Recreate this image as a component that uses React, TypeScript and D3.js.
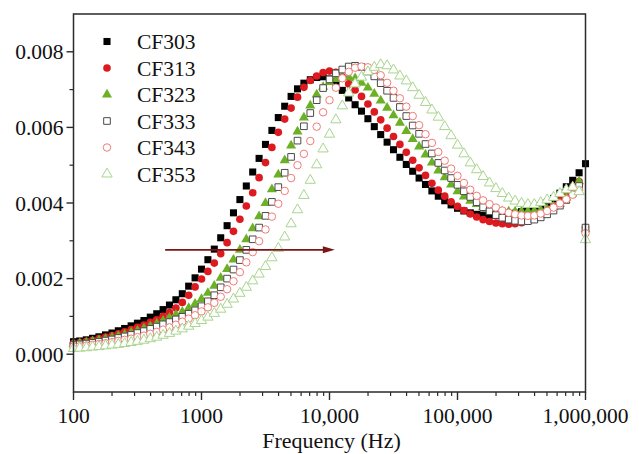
import * as d3 from 'd3';

// frequencies (Hz), 20 points per decade
const freq = [
  100, 112, 126, 141, 158, 178, 200, 224, 251, 282, 316, 355, 398, 447, 501, 562, 631, 708, 794, 891,
  1000, 1122, 1259, 1413, 1585, 1778, 1995, 2239, 2512, 2818, 3162, 3548, 3981, 4467, 5012, 5623, 6310, 7079, 7943, 8913,
  10000, 11220, 12589, 14125, 15849, 17783, 19953, 22387, 25119, 28184, 31623, 35481, 39811, 44668, 50119, 56234, 63096, 70795, 79433, 89125,
  100000, 112202, 125893, 141254, 158489, 177828, 199526, 223872, 251189, 281838, 316228, 354813, 398107, 446684, 501187, 562341, 630957, 707946, 794328, 891251,
  1000000,
];

// values in units of 1e-3
const cf303 = [
  0.33, 0.35, 0.38, 0.42, 0.46, 0.51, 0.56, 0.62, 0.68, 0.75, 0.82, 0.89, 0.98, 1.07, 1.18, 1.30, 1.44, 1.60, 1.80, 2.02,
  2.25, 2.50, 2.78, 3.08, 3.40, 3.74, 4.09, 4.45, 4.82, 5.18, 5.55, 5.92, 6.26, 6.56, 6.82, 7.02, 7.17, 7.26, 7.32, 7.34,
  7.28, 7.14, 6.98, 6.78, 6.60, 6.43, 6.23, 6.02, 5.81, 5.61, 5.41, 5.21, 5.02, 4.84, 4.66, 4.49, 4.32, 4.18, 4.06, 3.95,
  3.86, 3.79, 3.74, 3.70, 3.68, 3.67, 3.67, 3.68, 3.70, 3.73, 3.77, 3.82, 3.87, 3.93, 4.01, 4.12, 4.26, 4.43, 4.60, 4.80,
  5.04,
];
const cf313 = [
  0.29, 0.31, 0.34, 0.37, 0.41, 0.45, 0.49, 0.54, 0.59, 0.65, 0.71, 0.77, 0.84, 0.91, 1.00, 1.10, 1.22, 1.37, 1.56, 1.78,
  1.99, 2.19, 2.41, 2.66, 2.95, 3.25, 3.57, 3.92, 4.27, 4.67, 5.07, 5.47, 5.87, 6.22, 6.51, 6.80, 7.06, 7.24, 7.36, 7.45,
  7.49, 7.46, 7.33, 7.15, 6.99, 6.82, 6.62, 6.41, 6.20, 5.98, 5.76, 5.55, 5.34, 5.13, 4.93, 4.73, 4.52, 4.34, 4.18, 4.03,
  3.91, 3.80, 3.71, 3.63, 3.56, 3.51, 3.47, 3.45, 3.44, 3.45, 3.48, 3.53, 3.60, 3.69, 3.80, 3.93, 4.08, 4.25, 4.42, 4.57,
  3.35,
];
const cf323 = [
  0.27, 0.29, 0.31, 0.34, 0.37, 0.40, 0.44, 0.48, 0.52, 0.57, 0.62, 0.68, 0.74, 0.81, 0.88, 0.96, 1.04, 1.12, 1.22, 1.33,
  1.46, 1.62, 1.81, 2.02, 2.25, 2.50, 2.76, 3.04, 3.33, 3.65, 4.00, 4.36, 4.75, 5.13, 5.52, 5.89, 6.26, 6.58, 6.87, 7.07,
  7.20, 7.28, 7.32, 7.33, 7.30, 7.18, 7.05, 6.89, 6.71, 6.52, 6.32, 6.12, 5.90, 5.69, 5.49, 5.28, 5.07, 4.86, 4.68, 4.49,
  4.31, 4.17, 4.06, 3.97, 3.89, 3.83, 3.80, 3.78, 3.77, 3.77, 3.77, 3.78, 3.79, 3.81, 3.84, 3.90, 3.98, 4.14, 4.33, 4.57,
  3.30,
];
const cf333 = [
  0.24, 0.26, 0.28, 0.30, 0.33, 0.36, 0.39, 0.43, 0.47, 0.51, 0.56, 0.61, 0.67, 0.73, 0.79, 0.85, 0.92, 0.99, 1.07, 1.16,
  1.27, 1.40, 1.56, 1.77, 2.00, 2.24, 2.49, 2.76, 3.04, 3.35, 3.66, 4.03, 4.42, 4.80, 5.22, 5.65, 6.03, 6.38, 6.72, 7.04,
  7.27, 7.43, 7.53, 7.61, 7.63, 7.60, 7.48, 7.35, 7.17, 6.97, 6.78, 6.54, 6.30, 6.05, 5.83, 5.56, 5.31, 5.06, 4.86, 4.66,
  4.48, 4.31, 4.16, 4.02, 3.89, 3.78, 3.68, 3.61, 3.56, 3.53, 3.51, 3.52, 3.56, 3.62, 3.70, 3.80, 3.93, 4.08, 4.25, 4.45,
  3.35,
];
const cf343 = [
  0.20, 0.21, 0.23, 0.25, 0.27, 0.29, 0.32, 0.35, 0.38, 0.41, 0.45, 0.49, 0.54, 0.59, 0.65, 0.71, 0.78, 0.86, 0.94, 1.03,
  1.13, 1.24, 1.36, 1.52, 1.72, 1.93, 2.17, 2.43, 2.70, 2.99, 3.30, 3.64, 3.98, 4.32, 4.66, 5.00, 5.30, 5.64, 6.02, 6.40,
  6.72, 7.05, 7.30, 7.47, 7.58, 7.61, 7.59, 7.52, 7.38, 7.18, 6.97, 6.77, 6.55, 6.30, 6.06, 5.82, 5.59, 5.35, 5.12, 4.91,
  4.72, 4.53, 4.35, 4.19, 4.07, 3.97, 3.88, 3.80, 3.74, 3.70, 3.67, 3.66, 3.67, 3.72, 3.79, 3.88, 3.99, 4.10, 4.22, 4.34,
  3.20,
];
const cf353 = [
  0.15, 0.16, 0.17, 0.19, 0.20, 0.22, 0.24, 0.26, 0.28, 0.31, 0.34, 0.37, 0.41, 0.45, 0.50, 0.55, 0.61, 0.67, 0.74, 0.81,
  0.89, 0.98, 1.08, 1.19, 1.32, 1.46, 1.61, 1.77, 1.94, 2.12, 2.32, 2.55, 2.80, 3.10, 3.45, 3.82, 4.20, 4.60, 5.01, 5.43,
  5.82, 6.20, 6.57, 6.91, 7.15, 7.33, 7.47, 7.59, 7.66, 7.63, 7.52, 7.36, 7.23, 7.05, 6.85, 6.66, 6.46, 6.27, 6.02, 5.78,
  5.53, 5.30, 5.06, 4.88, 4.70, 4.53, 4.38, 4.25, 4.13, 4.05, 3.99, 3.96, 3.96, 4.01, 4.08, 4.15, 4.25, 4.35, 4.42, 4.30,
  3.03,
];

const seriesNames = ['CF303', 'CF313', 'CF323', 'CF333', 'CF343', 'CF353'];
const seriesValues = [cf303, cf313, cf323, cf333, cf343, cf353];

const xTicks = [100, 1000, 10000, 100000, 1000000];
const xTickLabels = ['100', '1000', '10,000', '100,000', '1,000,000'];
const yTicks = [0, 2, 4, 6, 8];
const yTickLabels = ['0.000', '0.002', '0.004', '0.006', '0.008'];
const yMinorTicks = [1, 3, 5, 7];

// arrow annotation (Hz, 1e-3 units)
const arrowFrom = [520, 2.76];
const arrowTo = [11000, 2.76];

const styles = [
  { shape: d3.symbolSquare, size: 50, fill: '#000000', stroke: 'none' },
  { shape: d3.symbolCircle, size: 46, fill: '#dd1a1f', stroke: 'none' },
  { shape: d3.symbolTriangle, size: 44, fill: '#6cb025', stroke: 'none' },
  { shape: d3.symbolSquare, size: 44, fill: '#ffffff', stroke: '#4a4a4a' },
  { shape: d3.symbolCircle, size: 44, fill: '#ffffff', stroke: '#f07b78' },
  { shape: d3.symbolTriangle, size: 46, fill: '#ffffff', stroke: '#a9d58e' },
];

const FONT = '"Liberation Serif", "Times New Roman", serif';

export default function App() {
  const width = 639;
  const height = 454;
  const left = 73.5, right = 585.5, top = 14, bottom = 392;

  const x = d3.scaleLog().domain([100, 1e6]).range([left, right]);
  const y = d3.scaleLinear().domain([-1, 9]).range([bottom, top]);

  const xMinor: number[] = [];
  for (let d = 100; d < 1e6; d *= 10) {
    for (let m = 2; m <= 9; m++) xMinor.push(d * m);
  }

  const ax1 = x(arrowFrom[0]);
  const ax2 = x(arrowTo[0]);
  const ay = y(arrowFrom[1]);

  return (
    <svg
      width={width}
      height={height}
      style={{ position: 'absolute', left: 0, top: 0, background: '#fff' }}
      fontFamily={FONT}
    >
      {/* markers */}
      {seriesValues.map((vals, si) => {
        const st = styles[si];
        const path = d3.symbol().type(st.shape).size(st.size)();
        return (
          <g key={si}>
            {vals.map((v, i) => (
              <path
                key={i}
                d={path || ''}
                transform={`translate(${x(freq[i])},${y(v)})`}
                fill={st.fill}
                stroke={st.stroke}
                strokeWidth={1}
              />
            ))}
          </g>
        );
      })}

      {/* arrow */}
      <line x1={ax1} x2={ax2 - 10} y1={ay} y2={ay} stroke="#7a1616" strokeWidth={1.6} />
      <path d={`M${ax2},${ay} L${ax2 - 12},${ay - 3.5} L${ax2 - 12},${ay + 3.5} Z`} fill="#7a1616" />

      {/* frame */}
      <rect x={left} y={top} width={right - left} height={bottom - top} fill="none" stroke="#2a2a2a" strokeWidth={1.5} />

      {/* y ticks */}
      {yTicks.map((t, i) => (
        <g key={t}>
          <line x1={left - 7} x2={left} y1={y(t)} y2={y(t)} stroke="#2a2a2a" strokeWidth={1.4} />
          <text x={left - 10} y={y(t)} dy="0.35em" textAnchor="end" fontSize={21.5} fill="#111">
            {yTickLabels[i]}
          </text>
        </g>
      ))}
      {yMinorTicks.map((t) => (
        <line key={t} x1={left - 4} x2={left} y1={y(t)} y2={y(t)} stroke="#2a2a2a" strokeWidth={1.2} />
      ))}

      {/* x ticks */}
      {xTicks.map((t, i) => (
        <g key={t}>
          <line x1={x(t)} x2={x(t)} y1={bottom} y2={bottom + 8} stroke="#2a2a2a" strokeWidth={1.4} />
          <text x={x(t)} y={bottom + 31} textAnchor="middle" fontSize={21.5} fill="#111">
            {xTickLabels[i]}
          </text>
        </g>
      ))}
      {xMinor.map((t) => (
        <line key={t} x1={x(t)} x2={x(t)} y1={bottom} y2={bottom + 4} stroke="#2a2a2a" strokeWidth={1.2} />
      ))}

      <text x={(left + right) / 2 + 2} y={448} textAnchor="middle" fontSize={22} fill="#111">
        Frequency (Hz)
      </text>

      {/* legend */}
      {seriesNames.map((name, i) => {
        const st = styles[i];
        const ly = 41.5 + i * 26.5;
        return (
          <g key={name}>
            <path
              d={d3.symbol().type(st.shape).size(st.size)() || ''}
              transform={`translate(107,${ly})`}
              fill={st.fill}
              stroke={st.stroke}
              strokeWidth={1}
            />
            <text x={137} y={ly} dy="0.35em" fontSize={21.5} fill="#111">
              {name}
            </text>
          </g>
        );
      })}
    </svg>
  );
}
